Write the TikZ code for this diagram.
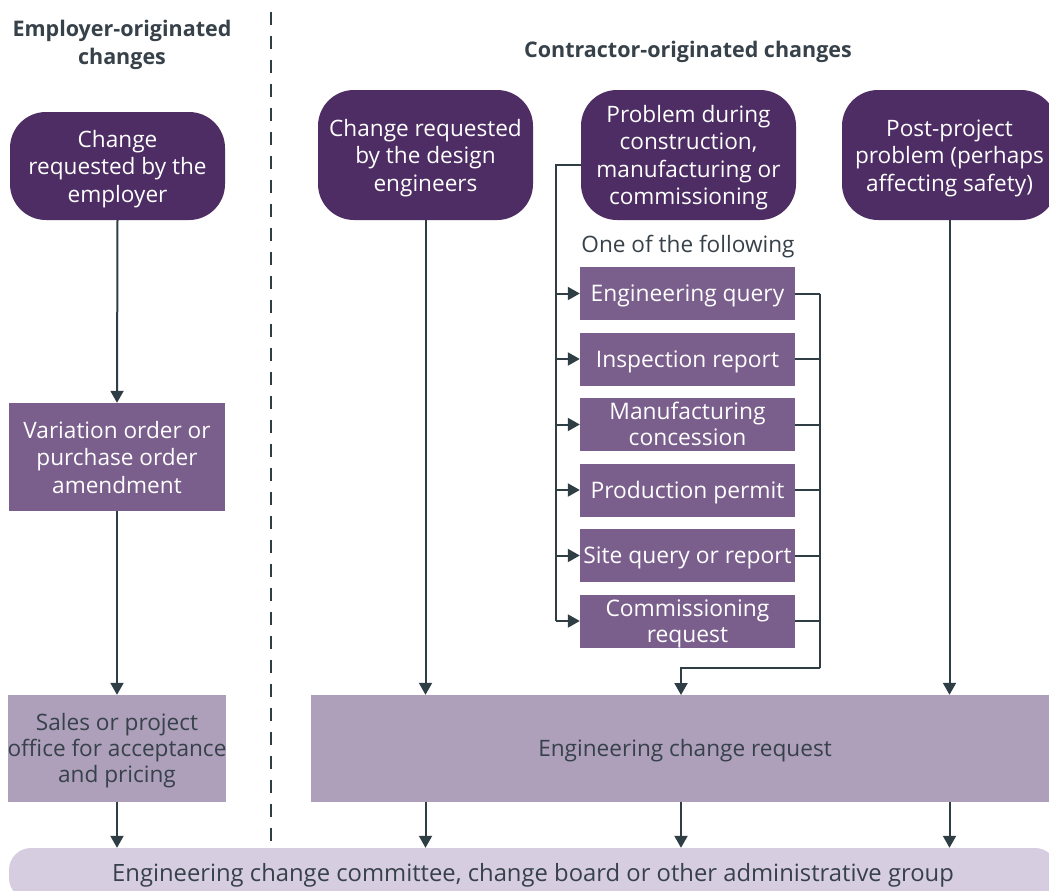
\documentclass[tikz,border=0pt]{standalone}
\usepackage{fontspec}
\setmainfont{Open Sans}
\usetikzlibrary{arrows.meta}
\definecolor{dp}{RGB}{77,45,99}
\definecolor{mp}{RGB}{122,94,140}
\definecolor{lp}{RGB}{174,159,187}
\definecolor{llp}{RGB}{215,205,224}
\definecolor{ln}{RGB}{47,61,69}
\definecolor{tx}{RGB}{55,65,74}
\newcommand\dfont{\fontsize{22.6}{27.5}\selectfont}
\newcommand\lfont{\fontsize{22.6}{26}\selectfont}
\newcommand\sfont{\fontsize{22.8}{26}\selectfont}
\newcommand\bfont{\fontsize{23.8}{27}\selectfont}
\newcommand\tfont{\fontsize{21.5}{28}\selectfont}
\newcommand\tl[1]{\raisebox{-3.2pt}[\height][\depth]{\begin{tabular}{@{}c@{}}#1\end{tabular}}}
\begin{document}
\begin{tikzpicture}[x=1pt,y=-1pt,
  line/.style={draw=ln, line width=2pt},
  arr/.style={line, -{Triangle[length=12pt,width=13pt]}},
  rbox/.style={fill=dp, rounded corners=36pt, text=white, align=center, minimum width=215pt, inner sep=0pt, font=\dfont},
  mbox/.style={fill=mp, text=white, align=center, minimum width=216pt, inner sep=0pt, font=\dfont},
  sbox/.style={fill=mp, text=white, align=center, minimum width=215pt, minimum height=53pt, inner sep=0pt, font=\sfont},
  lbox/.style={fill=lp, text=tx, align=center, inner sep=0pt, font=\lfont},
  title/.style={text=tx, align=center, font=\tfont\bfseries, inner sep=0pt},
  plain/.style={text=tx, align=center, font=\dfont, inner sep=0pt}
]
\useasboundingbox (0,0) rectangle (1049,891);
\clip (0,0) rectangle (1049,891);
\fill[white] (0,0) rectangle (1049,891);

% titles
\node[title] (t1) at (122,45) {Employer-originated\\changes};
\node[title] (t2) at (688,52) {Contractor-originated changes};
\draw[line, dash pattern=on 13pt off 11pt] (271,12) -- (271,848);

% top nodes
\node[rbox, minimum height=108pt] (b1) at (117.5,166) {\tl{Change\\requested by the\\employer}};
\node[rbox, minimum height=130pt] (b2) at (425.5,155) {\tl{Change requested\\by the design\\engineers}};
\node[rbox, minimum height=130pt] (b3) at (688.5,155) {\tl{Problem during\\construction,\\manufacturing or\\commissioning}};
\node[rbox, minimum height=130pt] (b4) at (949.5,155) {\tl{Post-project\\problem (perhaps\\affecting safety)}};

\node[plain] (one) at (688,244) {\tl{One of the following}};

\node[sbox] (s1) at (687.5,293.5) {\tl{Engineering query}};
\node[sbox] (s2) at (687.5,359) {\tl{Inspection report}};
\node[sbox] (s3) at (687.5,424.5) {\tl{Manufacturing\\concession}};
\node[sbox] (s4) at (687.5,490) {\tl{Production permit}};
\node[sbox] (s5) at (687.5,555.5) {\tl{Site query or report}};
\node[sbox] (s6) at (687.5,621) {\tl{Commissioning\\request}};

\node[mbox, minimum height=108pt] (var) at (117,457) {\tl{Variation order or\\purchase order\\amendment}};
\node[lbox, minimum width=216pt, minimum height=107pt] (sales) at (117,748.5) {\tl{Sales or project\\office for acceptance\\and pricing}};
\node[lbox, minimum width=748pt, minimum height=107pt] (ecr) at (685,748.5) {\tl{Engineering change request}};
\node[fill=llp, rounded corners=22pt, minimum width=1048pt, minimum height=52pt, inner sep=0pt] (ecc) at (533,874) {};
\node[plain, font=\bfont] (ecct) at (533,873) {\tl{Engineering change committee, change board or other administrative group}};

% coordinates
\coordinate (lb) at (556,165);
\coordinate (rb) at (820,668);
\coordinate (mid) at (681,695);

% employer column
\draw[arr] (b1.south) -- (var.north);
\draw[arr] (var.south) -- (sales.north);
\draw[arr] (sales.south) -- (sales.south |- ecc.north);

% contractor columns
\draw[arr] (b2.south) -- (b2.south |- ecr.north);
\draw[arr] (b4.south) -- (b4.south |- ecr.north);

% left bus
\draw[line] (b3.west |- lb) -- (lb) -- (lb |- s6.west);
\foreach \s in {s1,s2,s3,s4,s5,s6}
  \draw[arr] (lb |- \s.west) -- (\s.west);

% right bus
\foreach \s in {s1,s2,s3,s4,s5,s6}
  \draw[line] (\s.east) -- (\s.east -| rb);
\draw[line] (s1.east -| rb) -- (rb);
\draw[arr] (rb) -| (mid);

% to committee
\draw[arr] (ecr.south -| b2) -- (ecc.north -| b2);
\draw[arr] (ecr.south -| mid) -- (ecc.north -| mid);
\draw[arr] (ecr.south -| b4) -- (ecc.north -| b4);
\end{tikzpicture}
\end{document}
